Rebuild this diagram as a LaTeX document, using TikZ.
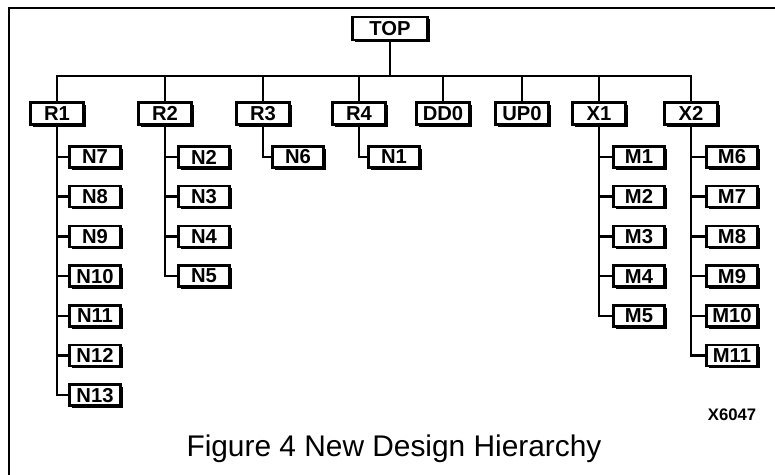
\documentclass[tikz,border=0pt]{standalone}
\usepackage{fontspec}
\setmainfont{Liberation Sans}
\usepackage{tikz}
\usetikzlibrary{shadows}
\tikzset{
	modbox/.style ={rectangle, draw=black, line width=1.4pt, fill=white, inner sep=0pt, minimum width=1.06cm, minimum height=0.44cm, font=\bfseries\fontsize{11.5}{13}\selectfont, drop shadow={shadow xshift=0.045cm, shadow yshift=-0.045cm, fill=black, opacity=1}},
	topbox/.style ={modbox, minimum width=1.5cm, minimum height=0.46cm},
	leafbox/.style={modbox, minimum width=1.02cm, minimum height=0.42cm},
	link/.style   ={line width=1.4pt},
}

\begin{document}
\begin{tikzpicture}[x=0.02cm, y=-0.02cm]
	\useasboundingbox (0,0) rectangle (775,475);
	% frame
	\draw[line width=1.3pt] (9,475) -- (9,8) -- (775,8);
	% top level
	\node[topbox] (TOP) at (390,28.5) {TOP};
	\coordinate (bus) at (390,76);
	% level 1
	\foreach \n/\x in {R1/57,R2/165,R3/263,R4/359,DD0/443,UP0/522,X1/599,X2/691}
		\node[modbox] (\n) at (\x,113.5) {\n};
	% leaves
	\foreach \n [count=\i] in {N7,N8,N9,N10,N11,N12,N13}
		\node[leafbox] (\n) at (95,{157+(\i-1)*39.7}) {\n};
	\foreach \n [count=\i] in {N2,N3,N4,N5}
		\node[leafbox] (\n) at (204,{157+(\i-1)*39.7}) {\n};
	\node[leafbox] (N6) at (298,157) {N6};
	\node[leafbox] (N1) at (394,157) {N1};
	\foreach \n [count=\i] in {M1,M2,M3,M4,M5}
		\node[leafbox] (\n) at (639,{157+(\i-1)*39.7}) {\n};
	\foreach \n [count=\i] in {M6,M7,M8,M9,M10,M11}
		\node[leafbox] (\n) at (732,{157+(\i-1)*39.7}) {\n};
	% connectors
	\draw[link] (TOP.south) -- (bus);
	\foreach \n in {R1,R2,R3,R4,DD0,UP0,X1,X2} \draw[link] (bus) -| (\n.north);
	\foreach \p/\c in {R1/N7,R1/N8,R1/N9,R1/N10,R1/N11,R1/N12,R1/N13,R2/N2,R2/N3,R2/N4,R2/N5,R3/N6,R4/N1,X1/M1,X1/M2,X1/M3,X1/M4,X1/M5,X2/M6,X2/M7,X2/M8,X2/M9,X2/M10,X2/M11}
		\draw[link] (\p.south) |- (\c.west);
	% labels
	\node[font=\bfseries\fontsize{9.5}{11}\selectfont] (code) at (732,415) {X6047};
	\node[anchor=base, font=\fontsize{17}{20}\selectfont] (caption) at (394,457) {Figure 4 New Design Hierarchy};
\end{tikzpicture}
\end{document}
